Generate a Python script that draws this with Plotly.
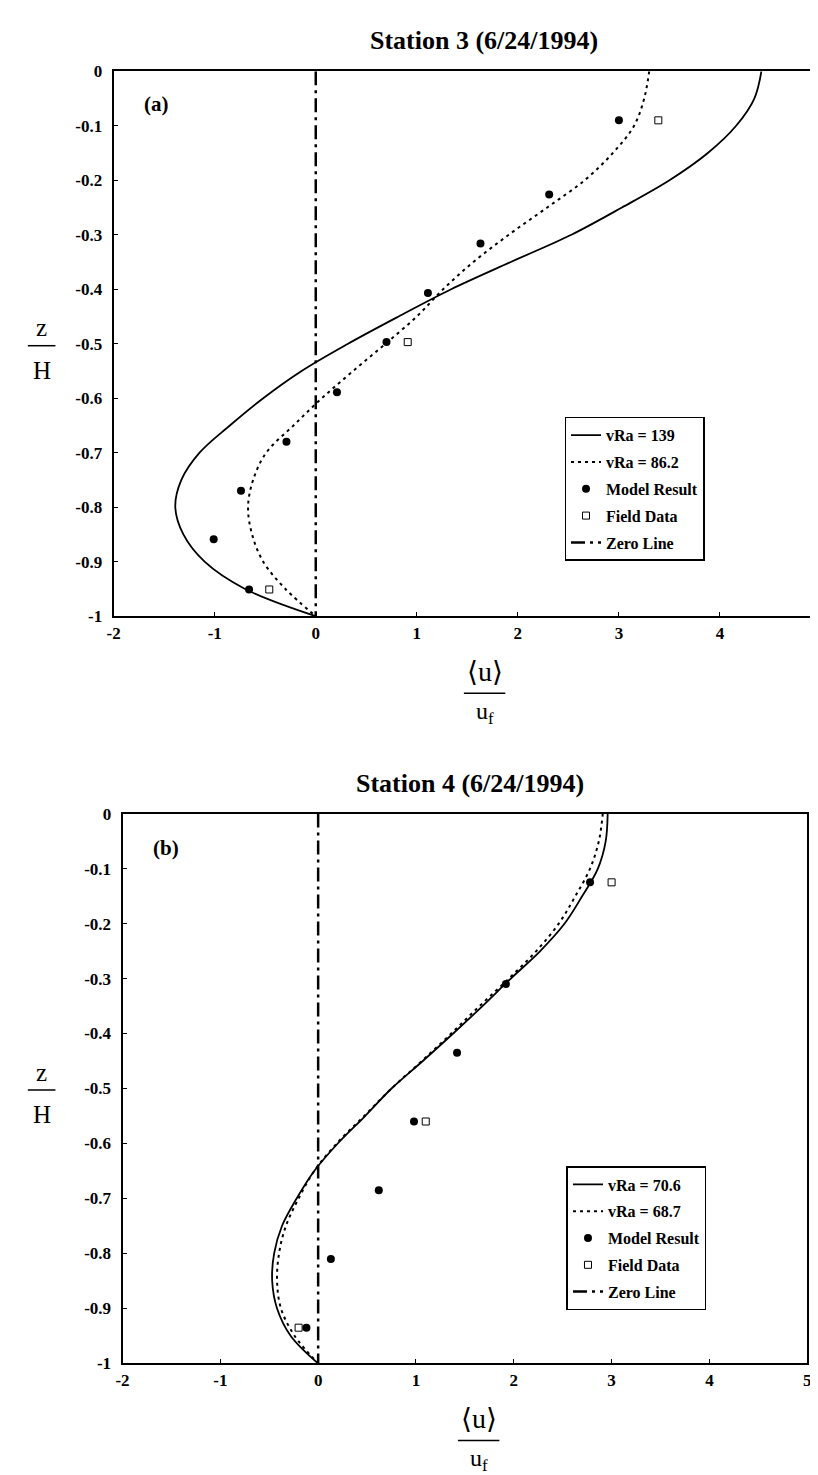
import plotly.graph_objects as go

# ---------------- data ----------------
Z_GRID = [0, -0.05, -0.1, -0.15, -0.2, -0.25, -0.3, -0.35, -0.4, -0.45, -0.5,
          -0.55, -0.6, -0.65, -0.7, -0.75, -0.8, -0.85, -0.9, -0.95, -1.0]

# Station 3 (panel a)
solid_a = [4.41, 4.34, 4.16, 3.88, 3.50, 3.03, 2.53, 1.93, 1.34, 0.82, 0.32,
           -0.14, -0.52, -0.85, -1.15, -1.33, -1.39, -1.31, -1.10, -0.70, 0.0]
dotted_a = [3.30, 3.25, 3.15, 2.94, 2.66, 2.29, 1.91, 1.56, 1.26, 1.00, 0.69,
            0.37, 0.06, -0.22, -0.49, -0.62, -0.67, -0.63, -0.52, -0.30, 0.0]
model_a_u = [3.00, 2.31, 1.63, 1.11, 0.70, 0.21, -0.29, -0.74, -1.01, -0.66]
model_a_z = [-0.09, -0.226, -0.316, -0.407, -0.497, -0.589, -0.68, -0.77, -0.859, -0.951]
field_a_u = [3.39, 0.91, -0.46]
field_a_z = [-0.09, -0.497, -0.951]

# Station 4 (panel b)
solid_b = [2.96, 2.94, 2.86, 2.70, 2.52, 2.27, 1.97, 1.68, 1.38, 1.07, 0.75,
           0.48, 0.20, -0.04, -0.22, -0.37, -0.45, -0.47, -0.42, -0.28, 0.0]
dotted_b = [2.91, 2.87, 2.78, 2.63, 2.46, 2.23, 1.95, 1.65, 1.36, 1.06, 0.75,
            0.47, 0.19, -0.04, -0.20, -0.33, -0.40, -0.42, -0.38, -0.24, 0.0]
model_b_u = [2.78, 1.92, 1.42, 0.98, 0.62, 0.13, -0.12]
model_b_z = [-0.125, -0.31, -0.435, -0.56, -0.685, -0.81, -0.935]
field_b_u = [3.00, 1.10, -0.20]
field_b_z = [-0.125, -0.56, -0.935]

zero_u = [0, 0]
zero_z = [0, -1]

X_TICKS = [-2, -1, 0, 1, 2, 3, 4, 5]
X_LABELS = ["-2", "-1", "0", "1", "2", "3", "4", "5"]
Y_TICKS = [0, -0.1, -0.2, -0.3, -0.4, -0.5, -0.6, -0.7, -0.8, -0.9, -1]
Y_LABELS = ["0", "-0.1", "-0.2", "-0.3", "-0.4", "-0.5", "-0.6", "-0.7", "-0.8", "-0.9", "-1"]

legend_a = ["vRa = 139", "vRa = 86.2", "Model Result", "Field Data", "Zero Line"]
legend_b = ["vRa = 70.6", "vRa = 68.7", "Model Result", "Field Data", "Zero Line"]
titles = ["Station 3 (6/24/1994)", "Station 4 (6/24/1994)"]

# ---------------- layout helpers ----------------
W, H = 818, 1475
SERIF = "Liberation Serif, Times New Roman, DejaVu Serif, serif"


def px(x):
    return x / W


def py(y):
    return 1 - y / H


fig = go.Figure()


def add_panel(xa, ya, solid, dotted, mu, mz, fu, fz, names, legend):
    common = dict(xaxis=xa, yaxis=ya, legend=legend)
    fig.add_trace(go.Scatter(x=solid, y=Z_GRID, mode="lines", name=names[0],
                             line=dict(color="black", width=1.8, shape="spline"),
                             legendgroup=legend + "1", **common))
    fig.add_trace(go.Scatter(x=dotted, y=Z_GRID, mode="lines", name=names[1],
                             line=dict(color="black", width=2, dash="3px,4px", shape="spline"),
                             legendgroup=legend + "2", **common))
    fig.add_trace(go.Scatter(x=mu, y=mz, mode="markers", name=names[2],
                             marker=dict(symbol="circle", size=8, color="black"),
                             legendgroup=legend + "3", **common))
    fig.add_trace(go.Scatter(x=fu, y=fz, mode="markers", name=names[3],
                             marker=dict(symbol="square-open", size=7, color="black",
                                         line=dict(width=1, color="black")),
                             legendgroup=legend + "4", **common))
    fig.add_trace(go.Scatter(x=zero_u, y=zero_z, mode="lines", name=names[4],
                             line=dict(color="black", width=2.5, dash="14px,5px,3px,5px"),
                             legendgroup=legend + "5", **common))


add_panel("x", "y", solid_a, dotted_a, model_a_u, model_a_z, field_a_u, field_a_z,
          legend_a, "legend")
add_panel("x2", "y2", solid_b, dotted_b, model_b_u, model_b_z, field_b_u, field_b_z,
          legend_b, "legend2")

tickfont = dict(family=SERIF, size=17, color="black", weight="bold")
axis_common = dict(showline=True, mirror=True, linecolor="black", linewidth=2,
                   showgrid=False, zeroline=False, ticks="inside", ticklen=4,
                   tickcolor="black", tickwidth=1, tickfont=tickfont)

legend_style = dict(bordercolor="black", borderwidth=1.5, bgcolor="white",
                    font=dict(family=SERIF, size=16, color="black", weight="bold"),
                    tracegroupgap=3, xanchor="left", yanchor="top",
                    itemwidth=30)

fig.update_layout(
    width=W, height=H,
    margin=dict(l=0, r=0, t=0, b=0),
    paper_bgcolor="white", plot_bgcolor="white",
    showlegend=True,
    xaxis=dict(domain=[px(100), px(817)], range=[-2, 5], anchor="y",
               tickvals=X_TICKS, ticktext=X_LABELS, **axis_common),
    yaxis=dict(domain=[py(607), py(55)], range=[-1, 0], anchor="x",
               tickvals=Y_TICKS, ticktext=Y_LABELS, ticklabelstandoff=6, **axis_common),
    xaxis2=dict(domain=[px(109), px(803)], range=[-2, 5], anchor="y2",
                tickvals=X_TICKS, ticktext=X_LABELS, **axis_common),
    yaxis2=dict(domain=[py(1364), py(807)], range=[-1, 0], anchor="x2",
                tickvals=Y_TICKS, ticktext=Y_LABELS, ticklabelstandoff=6, **axis_common),
    legend=dict(x=px(557), y=py(405), **legend_style),
    legend2=dict(x=px(559), y=py(1164), **legend_style),
)

ann = []


def text(x, y, t, size, bold=False):
    f = dict(family=SERIF, size=size, color="black")
    if bold:
        f["weight"] = "bold"
    ann.append(dict(x=px(x), y=py(y), xref="paper", yref="paper", text=t,
                    showarrow=False, font=f, xanchor="center", yanchor="middle"))


# titles and panel tags
text(475, 24, titles[0], 26, bold=True)
text(461, 777, titles[1], 26, bold=True)
text(143, 88, "(a)", 21, bold=True)
text(153, 842, "(b)", 21, bold=True)

shapes = []
for (xc, ybot) in [(476, 607), (470, 1364)]:
    text(xc, ybot + 56, "\u27e8u\u27e9", 28)
    text(xc, ybot + 98, "u<sub>f</sub>", 24)
    shapes.append(dict(type="line", xref="paper", yref="paper",
                       x0=px(xc - 21), x1=px(xc + 21), y0=py(ybot + 78), y1=py(ybot + 78),
                       line=dict(color="black", width=1.5)))

for (xc, ymid) in [(27, 331), (27, 1085)]:
    text(xc, ymid - 16, "z", 25)
    text(xc, ymid + 27, "H", 25)
    shapes.append(dict(type="line", xref="paper", yref="paper",
                       x0=px(xc - 14), x1=px(xc + 14), y0=py(ymid + 2), y1=py(ymid + 2),
                       line=dict(color="black", width=1.5)))

fig.update_layout(annotations=ann, shapes=shapes)

fig.write_html("out.html")
